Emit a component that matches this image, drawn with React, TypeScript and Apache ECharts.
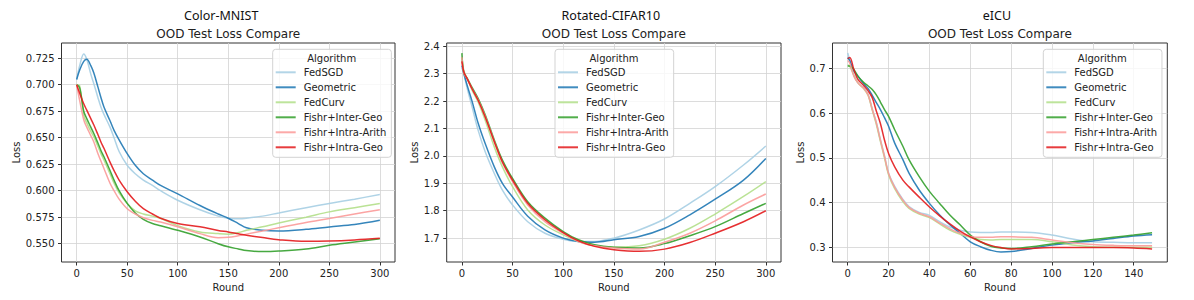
import React, { useEffect, useRef } from "react";
import * as echarts from "echarts";

// ---------- data ----------
const algorithms = [
  "FedSGD",
  "Geometric",
  "FedCurv",
  "Fishr+Inter-Geo",
  "Fishr+Intra-Arith",
  "Fishr+Intra-Geo",
];

const panelTitles = ["Color-MNIST", "Rotated-CIFAR10", "eICU"];
const subTitle = "OOD Test Loss Compare";
const legendTitle = "Algorithm";
const xName = "Round";
const yName = "Loss";

// Color-MNIST
const mnistRounds = [0, 3, 7, 10, 14, 17, 21, 24, 27, 33, 37, 42, 50, 58, 66, 75, 83, 100, 122, 140, 150, 160, 168, 184, 200, 227, 250, 275, 300];
const mnistFedSGD = [0.705, 0.718, 0.729, 0.724, 0.71, 0.701, 0.688, 0.679, 0.672, 0.66, 0.65, 0.637, 0.624, 0.616, 0.61, 0.605, 0.6, 0.591, 0.582, 0.576, 0.574, 0.5735, 0.574, 0.576, 0.579, 0.584, 0.588, 0.592, 0.5964];
const mnistGeometric = [0.705, 0.714, 0.722, 0.724, 0.718, 0.711, 0.698, 0.688, 0.679, 0.666, 0.657, 0.648, 0.635, 0.624, 0.616, 0.61, 0.605, 0.597, 0.586, 0.578, 0.574, 0.569, 0.565, 0.5626, 0.562, 0.5635, 0.5658, 0.568, 0.572];
const mnistFedCurv = [0.7, 0.699, 0.671, 0.664, 0.656, 0.651, 0.642, 0.635, 0.629, 0.616, 0.607, 0.598, 0.588, 0.581, 0.578, 0.576, 0.574, 0.567, 0.561, 0.5595, 0.559, 0.5605, 0.5626, 0.566, 0.5695, 0.575, 0.58, 0.584, 0.588];
const mnistInterGeo = [0.7, 0.697, 0.675, 0.668, 0.66, 0.654, 0.645, 0.638, 0.632, 0.619, 0.61, 0.6, 0.588, 0.579, 0.573, 0.569, 0.567, 0.5626, 0.5563, 0.55, 0.547, 0.545, 0.5435, 0.5425, 0.543, 0.545, 0.5484, 0.5515, 0.5547];
const mnistIntraArith = [0.7, 0.685, 0.667, 0.66, 0.652, 0.646, 0.635, 0.628, 0.621, 0.607, 0.6, 0.592, 0.583, 0.578, 0.5745, 0.572, 0.5705, 0.566, 0.5595, 0.5557, 0.556, 0.5575, 0.559, 0.562, 0.565, 0.57, 0.5737, 0.578, 0.582];
const mnistIntraGeo = [0.7, 0.692, 0.682, 0.676, 0.668, 0.662, 0.653, 0.646, 0.64, 0.627, 0.619, 0.61, 0.599, 0.59, 0.583, 0.578, 0.574, 0.569, 0.566, 0.5625, 0.561, 0.5593, 0.558, 0.5558, 0.5538, 0.5522, 0.5525, 0.5535, 0.555];

// Rotated-CIFAR10
const cifarRounds = [0, 2, 5, 10, 16, 23, 32, 40, 50, 65, 82, 100, 115, 131, 150, 175, 200, 225, 250, 278, 300];
const cifarFedSGD = [2.32, 2.3, 2.25, 2.18, 2.094, 2.015, 1.936, 1.875, 1.821, 1.76, 1.718, 1.696, 1.688, 1.688, 1.7, 1.73, 1.77, 1.827, 1.888, 1.967, 2.036];
const cifarGeometric = [2.33, 2.3, 2.26, 2.2, 2.12, 2.045, 1.96, 1.9, 1.85, 1.78, 1.73, 1.7, 1.688, 1.685, 1.694, 1.706, 1.736, 1.785, 1.842, 1.912, 1.991];
const cifarFedCurv = [2.36, 2.31, 2.285, 2.24, 2.197, 2.13, 2.033, 1.96, 1.888, 1.803, 1.748, 1.712, 1.688, 1.672, 1.667, 1.672, 1.696, 1.736, 1.788, 1.852, 1.906];
const cifarInterGeo = [2.375, 2.3, 2.285, 2.25, 2.21, 2.15, 2.058, 1.985, 1.918, 1.833, 1.773, 1.724, 1.694, 1.676, 1.667, 1.664, 1.68, 1.709, 1.742, 1.79, 1.827];
const cifarIntraArith = [2.36, 2.3, 2.283, 2.245, 2.205, 2.145, 2.052, 1.975, 1.906, 1.821, 1.76, 1.718, 1.688, 1.672, 1.664, 1.66, 1.685, 1.718, 1.763, 1.821, 1.861];
const cifarIntraGeo = [2.345, 2.305, 2.283, 2.245, 2.203, 2.142, 2.052, 1.978, 1.912, 1.827, 1.767, 1.72, 1.69, 1.67, 1.658, 1.652, 1.66, 1.684, 1.718, 1.76, 1.8];

// eICU
const icuRounds = [0, 1, 3, 5, 8, 10, 12, 14, 16, 18, 20, 23, 27, 30, 35, 40, 45, 50, 55, 60, 65, 70, 75, 80, 90, 100, 110, 120, 130, 140, 149];
const icuFedSGD = [0.735, 0.718, 0.685, 0.668, 0.656, 0.642, 0.61, 0.58, 0.541, 0.505, 0.466, 0.436, 0.407, 0.391, 0.378, 0.371, 0.357, 0.345, 0.338, 0.334, 0.333, 0.333, 0.334, 0.334, 0.333, 0.327, 0.318, 0.312, 0.311, 0.31, 0.31];
const icuGeometric = [0.725, 0.718, 0.695, 0.683, 0.665, 0.655, 0.64, 0.624, 0.608, 0.59, 0.571, 0.533, 0.496, 0.466, 0.428, 0.398, 0.372, 0.35, 0.331, 0.312, 0.301, 0.293, 0.289, 0.29, 0.297, 0.3045, 0.31, 0.314, 0.3195, 0.325, 0.328];
const icuFedCurv = [0.708, 0.705, 0.685, 0.668, 0.654, 0.64, 0.607, 0.575, 0.537, 0.5, 0.462, 0.431, 0.402, 0.387, 0.374, 0.366, 0.352, 0.338, 0.329, 0.322, 0.317, 0.316, 0.317, 0.317, 0.317, 0.312, 0.305, 0.301, 0.3, 0.3, 0.3];
const icuInterGeo = [0.706, 0.706, 0.698, 0.683, 0.668, 0.661, 0.653, 0.641, 0.625, 0.608, 0.593, 0.563, 0.526, 0.496, 0.458, 0.425, 0.398, 0.372, 0.35, 0.327, 0.312, 0.302, 0.298, 0.297, 0.301, 0.307, 0.312, 0.317, 0.322, 0.327, 0.332];
const icuIntraArith = [0.718, 0.712, 0.683, 0.668, 0.655, 0.641, 0.609, 0.578, 0.54, 0.503, 0.465, 0.434, 0.405, 0.389, 0.376, 0.368, 0.354, 0.341, 0.331, 0.324, 0.322, 0.322, 0.323, 0.323, 0.322, 0.316, 0.31, 0.306, 0.304, 0.303, 0.303];
const icuIntraGeo = [0.722, 0.725, 0.698, 0.676, 0.661, 0.65, 0.635, 0.605, 0.577, 0.54, 0.51, 0.48, 0.45, 0.435, 0.412, 0.39, 0.37, 0.352, 0.336, 0.323, 0.312, 0.304, 0.299, 0.296, 0.297, 0.299, 0.299, 0.299, 0.299, 0.298, 0.296];

// tick labels
const roundTicks300 = [0, 50, 100, 150, 200, 250, 300];
const roundTicks140 = [0, 20, 40, 60, 80, 100, 120, 140];
const mnistLossTicks = [0.55, 0.575, 0.6, 0.625, 0.65, 0.675, 0.7, 0.725];
const cifarLossTicks = [1.7, 1.8, 1.9, 2.0, 2.1, 2.2, 2.3, 2.4];
const icuLossTicks = [0.3, 0.4, 0.5, 0.6, 0.7];

// ---------- style / layout ----------
const colors = ["#a6cee3", "#1f78b4", "#b2df8a", "#33a02c", "#fb9a99", "#e31a1c"];
const FONT = "DejaVu Sans";
const TXT = "#222";

const panels = [
  {
    rounds: mnistRounds,
    series: [mnistFedSGD, mnistGeometric, mnistFedCurv, mnistInterGeo, mnistIntraArith, mnistIntraGeo],
    xTicks: roundTicks300, yTicks: mnistLossTicks, yDigits: 3,
    xMin: -15, xMax: 315, yMin: 0.5327, yMax: 0.7394,
    left: 61.5, width: 333.5, nameGapY: 40,
    legendLeft: 272.7, titleDx: -7,
  },
  {
    rounds: cifarRounds,
    series: [cifarFedSGD, cifarGeometric, cifarFedCurv, cifarInterGeo, cifarIntraArith, cifarIntraGeo],
    xTicks: roundTicks300, yTicks: cifarLossTicks, yDigits: 1,
    xMin: -15, xMax: 315, yMin: 1.613, yMax: 2.412,
    left: 446.7, width: 334.3, nameGapY: 27,
    legendLeft: 555, titleDx: -3,
  },
  {
    rounds: icuRounds,
    series: [icuFedSGD, icuGeometric, icuFedCurv, icuInterGeo, icuIntraArith, icuIntraGeo],
    xTicks: roundTicks140, yTicks: icuLossTicks, yDigits: 1,
    xMin: -7.45, xMax: 156.45, yMin: 0.2667, yMax: 0.7573,
    left: 832.5, width: 334.8, nameGapY: 27,
    legendLeft: 1043.3, titleDx: -3,
  },
];

const GRID_TOP = 43;
const GRID_H = 219;

function buildOption() {
  const grid: any[] = [];
  const xAxis: any[] = [];
  const yAxis: any[] = [];
  const series: any[] = [];
  const legend: any[] = [];
  const graphic: any[] = [];

  panels.forEach((p, i) => {
    grid.push({
      left: p.left, top: GRID_TOP, width: p.width, height: GRID_H,
      show: true, borderColor: "#333", borderWidth: 1, backgroundColor: "#fff",
    });
    xAxis.push({
      type: "value", gridIndex: i, min: p.xMin, max: p.xMax,
      name: xName, nameLocation: "middle", nameGap: 20,
      nameTextStyle: { fontSize: 10, color: TXT, fontFamily: FONT },
      axisLine: { show: false, onZero: false },
      axisTick: { show: true, inside: false, length: 3.5, customValues: p.xTicks, lineStyle: { color: "#333", width: 1 } },
      axisLabel: { customValues: p.xTicks, fontSize: 10, color: TXT, fontFamily: FONT, margin: 6 },
      splitLine: { show: true, lineStyle: { color: "#d3d3d3", width: 0.8 } },
    });
    yAxis.push({
      type: "value", gridIndex: i, min: p.yMin, max: p.yMax,
      name: yName, nameLocation: "middle", nameGap: p.nameGapY, nameRotate: 90,
      nameTextStyle: { fontSize: 10, color: TXT, fontFamily: FONT },
      axisLine: { show: false, onZero: false },
      axisTick: { show: true, inside: false, length: 3.5, customValues: p.yTicks, lineStyle: { color: "#333", width: 1 } },
      axisLabel: {
        customValues: p.yTicks, fontSize: 10, color: TXT, fontFamily: FONT, margin: 7,
        formatter: (v: number) => v.toFixed(p.yDigits),
      },
      splitLine: { show: true, lineStyle: { color: "#d3d3d3", width: 0.8 } },
    });
    p.series.forEach((vals, k) => {
      series.push({
        type: "line", name: algorithms[k], xAxisIndex: i, yAxisIndex: i,
        data: p.rounds.map((r, j) => [r, vals[j]]),
        symbol: "none", smooth: 0.35,
        lineStyle: { color: colors[k], width: 1.5, opacity: 0.9 },
        itemStyle: { color: colors[k], opacity: 0.85 },
        emphasis: { disabled: true },
      });
    });
    legend.push({
      data: algorithms, orient: "vertical", left: p.legendLeft, top: 49.3,
      icon: "rect", itemWidth: 20, itemHeight: 2, itemGap: 3,
      padding: [17, 5, 4, 3],
      backgroundColor: "rgba(255,255,255,0.8)", borderColor: "#d3d3d3", borderWidth: 1, borderRadius: 3,
      textStyle: { fontSize: 10, color: TXT, fontFamily: FONT, lineHeight: 12, padding: [0, 0, 0, 3] },
      selectedMode: false,
    });
    const cx = p.left + p.width / 2;
    graphic.push({
      type: "text", x: cx + p.titleDx, y: 15,
      style: { text: panelTitles[i], fontSize: 12.5, fontFamily: "Noto Sans", fill: "#111", align: "center", verticalAlign: "middle" },
    });
    graphic.push({
      type: "text", x: cx, y: 34,
      style: { text: subTitle, fontSize: 12, fontFamily: FONT, fill: "#222", align: "center", verticalAlign: "middle" },
    });
    graphic.push({
      type: "text", x: p.legendLeft + 59, y: 58.7, z: 100,
      style: { text: legendTitle, fontSize: 10, fontFamily: FONT, fill: TXT, align: "center", verticalAlign: "middle" },
    });
  });

  return {
    animation: false,
    backgroundColor: "#fff",
    textStyle: { fontFamily: FONT },
    grid, xAxis, yAxis, series, legend, graphic,
  };
}

export default function App() {
  const ref = useRef<HTMLDivElement>(null);
  useEffect(() => {
    const chart = echarts.init(ref.current!, null, { renderer: "svg" });
    chart.setOption(buildOption() as any);
    return () => chart.dispose();
  }, []);
  return (
    <div
      ref={ref}
      style={{ position: "absolute", left: 0, top: 0, width: 1194, height: 300 }}
    />
  );
}
